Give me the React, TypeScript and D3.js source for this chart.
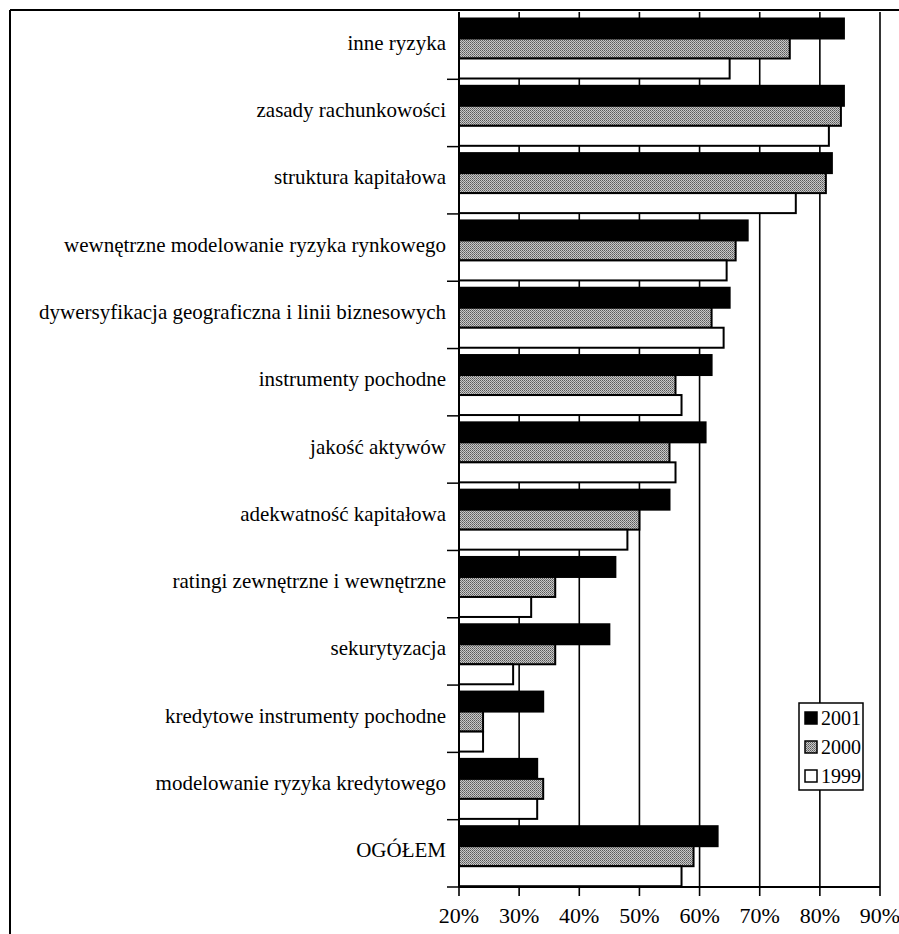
import React from "react";
import * as d3 from "d3";

const categories = [
  "inne ryzyka",
  "zasady rachunkowości",
  "struktura kapitałowa",
  "wewnętrzne modelowanie ryzyka rynkowego",
  "dywersyfikacja geograficzna i linii biznesowych",
  "instrumenty pochodne",
  "jakość aktywów",
  "adekwatność kapitałowa",
  "ratingi zewnętrzne i wewnętrzne",
  "sekurytyzacja",
  "kredytowe instrumenty pochodne",
  "modelowanie ryzyka kredytowego",
  "OGÓŁEM",
];
const seriesNames = ["2001", "2000", "1999"];
const v2001 = [84, 84, 82, 68, 65, 62, 61, 55, 46, 45, 34, 33, 63];
const v2000 = [75, 83.5, 81, 66, 62, 56, 55, 50, 36, 36, 24, 34, 59];
const v1999 = [65, 81.5, 76, 64.5, 64, 57, 56, 48, 32, 29, 24, 33, 57];
const xTicks = [20, 30, 40, 50, 60, 70, 80, 90];

const FONT = "'Liberation Serif', 'Times New Roman', serif";

export default function App() {
  const W = 899;
  const H = 934;
  const x = d3.scaleLinear().domain([20, 90]).range([459, 880]);
  const y = d3.scaleBand<string>().domain(categories).range([12, 887]).padding(0);
  const bh = 20;
  const off = 6.5;
  const series = [v2001, v2000, v1999];
  const fills = ["#000", "url(#stip)", "#fff"];
  const bw = y.bandwidth();

  const legX = 799;
  const legY = 703;
  const legW = 64;
  const legH = 87;

  return (
    <svg
      width={W}
      height={H}
      style={{ position: "absolute", left: 0, top: 0, background: "#fff" }}
      fontFamily={FONT}
    >
      <defs>
        <pattern id="stip" width="2" height="2" patternUnits="userSpaceOnUse">
          <rect width="2" height="2" fill="#c8c8c8" />
          <rect width="1" height="1" fill="#5a5a5a" />
          <rect x="1" y="1" width="1" height="1" fill="#7a7a7a" />
        </pattern>
      </defs>
      <rect x={0} y={0} width={W} height={H} fill="#fff" />
      {/* frame */}
      <line x1={10} y1={10} x2={W} y2={10} stroke="#000" strokeWidth={2} />
      <line x1={10} y1={10} x2={10} y2={H} stroke="#000" strokeWidth={2} />

      {/* gridlines */}
      {xTicks.slice(1).map((t) => (
        <line key={"g" + t} x1={x(t)} x2={x(t)} y1={12} y2={887} stroke="#000" strokeWidth={1.6} />
      ))}

      {/* bars */}
      {categories.map((c, i) => (
        <g key={c}>
          {series.map((s, k) => (
            <rect
              key={k}
              x={x(20)}
              y={(y(c) as number) + off + k * bh}
              width={x(s[i]) - x(20)}
              height={bh}
              fill={fills[k]}
              stroke="#000"
              strokeWidth={2}
            />
          ))}
        </g>
      ))}

      {/* y axis */}
      <line x1={x(20)} x2={x(20)} y1={12} y2={887} stroke="#000" strokeWidth={2} />
      {categories.map((c, i) => (
        <line
          key={"yt" + i}
          x1={447}
          x2={x(20)}
          y1={(y(c) as number) + bw}
          y2={(y(c) as number) + bw}
          stroke="#000"
          strokeWidth={1.5}
        />
      ))}
      {categories.map((c) => (
        <text
          key={"l" + c}
          x={446}
          y={(y(c) as number) + bw / 2 + 4}
          textAnchor="end"
          fontSize={21}
          fill="#000"
        >
          {c}
        </text>
      ))}

      {/* x axis */}
      <line x1={x(20)} x2={x(90)} y1={887} y2={887} stroke="#000" strokeWidth={2} />
      {xTicks.map((t) => (
        <g key={"xt" + t}>
          <line x1={x(t)} x2={x(t)} y1={887} y2={896} stroke="#000" strokeWidth={1.6} />
          <text x={x(t)} y={923} textAnchor="middle" fontSize={22} fill="#000">
            {t}%
          </text>
        </g>
      ))}

      {/* legend */}
      <rect x={legX} y={legY} width={legW} height={legH} fill="#fff" stroke="#000" strokeWidth={1.5} />
      {seriesNames.map((n, k) => (
        <g key={n}>
          <rect
            x={legX + 6}
            y={legY + 9 + k * 29}
            width={12}
            height={12}
            fill={fills[k]}
            stroke="#000"
            strokeWidth={1.5}
          />
          <text x={legX + 22} y={legY + 22 + k * 29} fontSize={20} fill="#000">
            {n}
          </text>
        </g>
      ))}
    </svg>
  );
}
